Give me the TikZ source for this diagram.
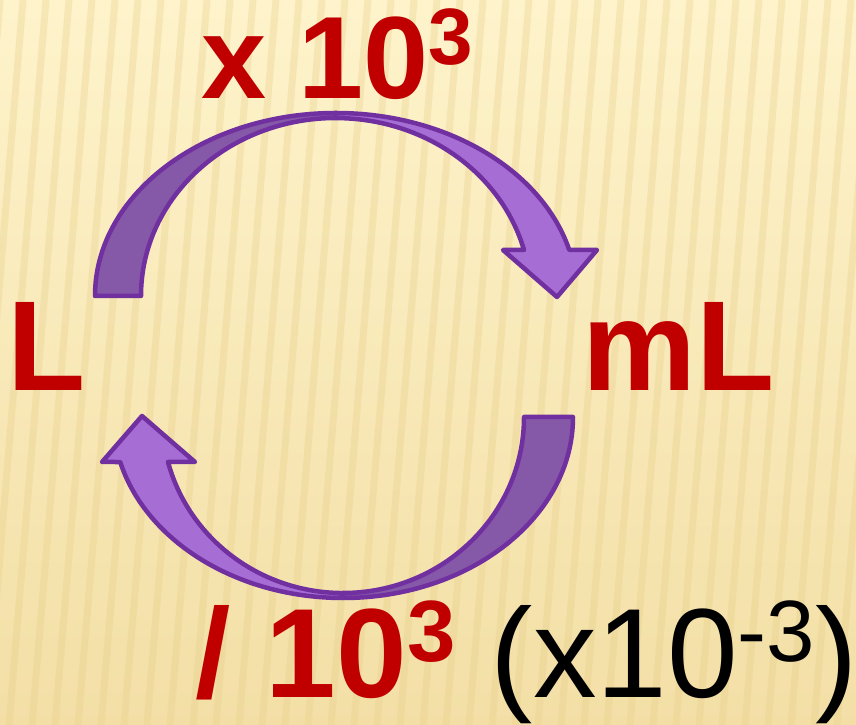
\documentclass[tikz,border=0pt]{standalone}
\usepackage{fontspec}
\setmainfont{Liberation Sans}
\usetikzlibrary{positioning}

\definecolor{rouge}{HTML}{C00000}
\definecolor{trait}{HTML}{7030A0}
\definecolor{violetfonce}{HTML}{8558A8}
\definecolor{violetclair}{HTML}{A66DD4}
\definecolor{fondhaut}{HTML}{FEF3CB}
\definecolor{fondbas}{HTML}{F3DFA6}
\definecolor{rayure}{HTML}{E6CC84}

\newcommand{\expo}[3]{\raisebox{#1}{\fontsize{#2}{#2}\selectfont #3}}

\tikzset{
  texte/.style={anchor=base west, inner sep=0pt, text=rouge},
  bande/.style={draw=trait, line width=4.5bp, line join=round},
}

\begin{document}
\begin{tikzpicture}[x=1bp,y=1bp]

% Fond
\clip (0,0) rectangle (856,725);
\shade[top color=fondhaut, bottom color=fondbas] (0,0) rectangle (856,725);
\foreach \x in {0,23,...,920}
  \draw[rayure, line width=7bp, opacity=0.3] (\x,725) -- (\x-60,0);

% Centres des arcs
\coordinate (haut) at (336,429);
\coordinate (bas) at (343,308);

% Fleche du haut
\filldraw[bande, fill=violetfonce]
(95,429)
arc[start angle=180, end angle=90, x radius=241, y radius=183]
--
(336,607)
arc[start angle=90, end angle=180, x radius=195, y radius=178]
--
cycle;

\filldraw[bande, fill=violetclair]
(336,612)
arc[start angle=90, end angle=14.6, x radius=241, y radius=183]
--
(597,475)
--
(557,428)
--
(503,475)
--
(524,475)
arc[start angle=15, end angle=90, x radius=195, y radius=178]
--
cycle;

% Fleche du bas
\filldraw[bande, fill=violetfonce]
(573,308)
arc[start angle=0, end angle=-90, x radius=230, y radius=181]
--
(343,132)
arc[start angle=-90, end angle=0, x radius=181, y radius=176]
--
cycle;

\filldraw[bande, fill=violetclair]
(343,127)
arc[start angle=-90, end angle=-165.6, x radius=230, y radius=181]
--
(102,263)
--
(142,309)
--
(195,263)
--
(168,263)
arc[start angle=-165.2, end angle=-90, x radius=181, y radius=176]
--
cycle;

% Unites
\node[texte, font=\bfseries\fontsize{128bp}{128bp}\selectfont] (litre) at (7,334)
{L};

\node[texte, font=\bfseries\fontsize{128bp}{128bp}\selectfont] (millilitre) at (582,334)
{mL};

% Conversions
\node[texte, font=\bfseries\fontsize{117bp}{117bp}\selectfont] (fois) at (201,626)
{x 10\expo{34bp}{80bp}{3}};

\node[texte, font=\bfseries\fontsize{127bp}{127bp}\selectfont] (divise) at (195,27)
{/ 10\expo{36bp}{87bp}{3}};

\node[texte, text=black, font=\fontsize{127bp}{127bp}\selectfont,
  right=35bp of divise.base east, anchor=base west] (inverse)
{(x10\expo{36bp}{87bp}{-3})};

\end{tikzpicture}
\end{document}
